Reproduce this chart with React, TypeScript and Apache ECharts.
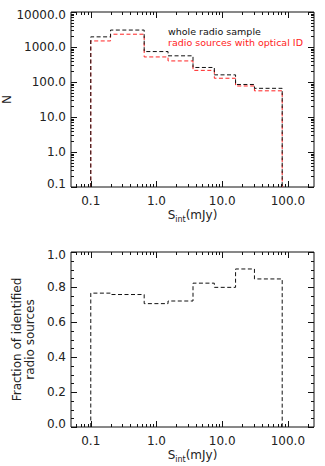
import React, { useEffect, useRef } from "react";
import * as echarts from "echarts";

// Histogram bins in integrated flux density (mJy)
const binEdges = [0.1, 0.2, 0.65, 1.5, 3.6, 7.6, 16, 31, 82];
// Number counts per bin
const allSources = [1950, 3050, 740, 560, 260, 160, 85, 66];
const opticalId = [1490, 2320, 520, 400, 215, 128, 77, 56];
// Fraction of radio sources with an optical identification per bin
const identifiedFraction = [0.765, 0.757, 0.705, 0.72, 0.822, 0.798, 0.903, 0.846];

// Tick values
const fluxMajorTicks = [0.1, 1, 10, 100];
const countMajorTicks = [0.1, 1, 10, 100, 1000, 10000];
const fractionMajorTicks = [0, 0.2, 0.4, 0.6, 0.8, 1.0];
const fractionMinorStep = 0.05;

const FLUX_MIN = 0.05;
const FLUX_MAX = 250;
const COUNT_MIN = 0.1;
const COUNT_MAX = 10000;

const FONT = "DejaVu Sans";
const INK = "#111";
const TEXT = "#222";
const RED = "#f22";

function logMinorTicks(decades: number[], lo: number, hi: number): number[] {
  const out: number[] = [];
  decades.forEach((d) => {
    for (let m = 2; m <= 9; m++) {
      const v = m * d;
      if (v > lo && v < hi) out.push(v);
    }
  });
  return out;
}

function stepOutline(edges: number[], values: number[], floor: number): number[][] {
  const pts: number[][] = [[edges[0], floor]];
  values.forEach((v, i) => {
    pts.push([edges[i], v]);
    pts.push([edges[i + 1], v]);
  });
  pts.push([edges[edges.length - 1], floor]);
  return pts;
}

const MAJOR_LEN = 6;
const MINOR_LEN = 3;
const tickStyle = { stroke: INK, lineWidth: 1 };

// Inward ticks on the bottom and top edges of a grid
function xTickSeries(gridIndex: number, major: number[], minor: number[], yRef: number) {
  const data = [
    ...major.map((v) => [v, yRef, MAJOR_LEN]),
    ...minor.map((v) => [v, yRef, MINOR_LEN]),
  ];
  return {
    type: "custom",
    xAxisIndex: gridIndex,
    yAxisIndex: gridIndex,
    silent: true,
    z: 5,
    data,
    renderItem: (params: any, api: any) => {
      const cs = params.coordSys;
      const x = Math.round(api.coord([api.value(0), api.value(1)])[0]) + 0.5;
      const len = api.value(2);
      const bottom = cs.y + cs.height;
      return {
        type: "group",
        children: [
          { type: "line", shape: { x1: x, y1: bottom, x2: x, y2: bottom - len }, style: tickStyle },
          { type: "line", shape: { x1: x, y1: cs.y, x2: x, y2: cs.y + len }, style: tickStyle },
        ],
      };
    },
  };
}

// Inward ticks on the left and right edges of a grid
function yTickSeries(gridIndex: number, major: number[], minor: number[], xRef: number) {
  const data = [
    ...major.map((v) => [xRef, v, MAJOR_LEN]),
    ...minor.map((v) => [xRef, v, MINOR_LEN]),
  ];
  return {
    type: "custom",
    xAxisIndex: gridIndex,
    yAxisIndex: gridIndex,
    silent: true,
    z: 5,
    data,
    renderItem: (params: any, api: any) => {
      const cs = params.coordSys;
      const y = Math.round(api.coord([api.value(0), api.value(1)])[1]) + 0.5;
      const len = api.value(2);
      const right = cs.x + cs.width;
      return {
        type: "group",
        children: [
          { type: "line", shape: { x1: cs.x, y1: y, x2: cs.x + len, y2: y }, style: tickStyle },
          { type: "line", shape: { x1: right, y1: y, x2: right - len, y2: y }, style: tickStyle },
        ],
      };
    },
  };
}

const isDecade = (v: number) => Math.abs(Math.log10(v) - Math.round(Math.log10(v))) < 1e-6;

const labelRich = {
  hi: { fontFamily: FONT, fontSize: 12, color: TEXT, padding: [6, 0, 0, 0] },
  lo: { fontFamily: FONT, fontSize: 12, color: TEXT, padding: [0, 0, 6, 0] },
};

function fluxAxis(gridIndex: number) {
  return {
    type: "log",
    logBase: 10,
    gridIndex,
    min: FLUX_MIN,
    max: FLUX_MAX,
    axisLine: { show: false },
    axisTick: { show: false },
    splitLine: { show: false },
    axisLabel: {
      margin: 8,
      fontFamily: FONT,
      fontSize: 12,
      color: TEXT,
      showMinLabel: false,
      showMaxLabel: false,
      formatter: (v: number) => (isDecade(v) && v >= 0.1 && v <= 100 ? v.toFixed(1) : ""),
    },
    name: "{s|S}{sub|int}{s|(mJy)}",
    nameLocation: "middle",
    nameGap: 20,
    nameTextStyle: {
      rich: {
        s: { fontFamily: FONT, fontSize: 12, color: TEXT, lineHeight: 16, verticalAlign: "middle" },
        sub: { fontFamily: FONT, fontSize: 8, color: TEXT, lineHeight: 9, verticalAlign: "bottom" },
      },
    },
  };
}

const App: React.FC = () => {
  const ref = useRef<HTMLDivElement>(null);

  useEffect(() => {
    document.body.style.margin = "0";
    if (!ref.current) return;
    const chart = echarts.init(ref.current, undefined, { renderer: "svg" });

    const fluxMinor = logMinorTicks([0.01, 0.1, 1, 10, 100], FLUX_MIN, FLUX_MAX);
    const countMinor = logMinorTicks([0.1, 1, 10, 100, 1000], COUNT_MIN, COUNT_MAX);
    const fractionMinor: number[] = [];
    for (let k = 0; k * fractionMinorStep <= 1.0001; k++) {
      const v = +(k * fractionMinorStep).toFixed(2);
      if (!fractionMajorTicks.some((m) => Math.abs(m - v) < 1e-6)) fractionMinor.push(v);
    }

    const dashed = [4, 2.5];
    const gridBase = {
      left: 71,
      width: 243,
      height: 175,
      show: true,
      borderColor: INK,
      borderWidth: 1,
      backgroundColor: "transparent",
      outerBoundsMode: "none",
      containLabel: false,
    };

    chart.setOption({
      animation: false,
      backgroundColor: "#fff",
      grid: [
        { ...gridBase, top: 12 },
        { ...gridBase, top: 252 },
      ],
      legend: {
        left: 158,
        top: 21.5,
        orient: "vertical",
        icon: "none",
        itemWidth: 0,
        itemHeight: 10,
        itemGap: 1,
        selectedMode: false,
        textStyle: { fontFamily: FONT, fontSize: 9.5 },
        data: [
          { name: "whole radio sample", textStyle: { color: INK } },
          { name: "radio sources with optical ID", textStyle: { color: RED } },
        ],
      },
      xAxis: [fluxAxis(0), fluxAxis(1)],
      yAxis: [
        {
          type: "log",
          logBase: 10,
          gridIndex: 0,
          min: COUNT_MIN,
          max: COUNT_MAX,
          axisLine: { show: false },
          axisTick: { show: false },
          splitLine: { show: false },
          axisLabel: {
            margin: 5,
            fontFamily: FONT,
            fontSize: 12,
            color: TEXT,
            formatter: (v: number) => {
              const t = v.toFixed(1);
              if (v >= COUNT_MAX) return `{hi|${t}}`;
              if (v <= COUNT_MIN) return `{lo|${t}}`;
              return t;
            },
            rich: labelRich,
          },
          name: "N",
          nameLocation: "middle",
          nameRotate: 90,
          nameGap: 58,
          nameMoveOverlap: false,
          nameTextStyle: { fontFamily: FONT, fontSize: 12, color: TEXT },
        },
        {
          type: "value",
          gridIndex: 1,
          min: 0,
          max: 1,
          interval: 0.2,
          axisLine: { show: false },
          axisTick: { show: false },
          splitLine: { show: false },
          axisLabel: {
            margin: 5,
            fontFamily: FONT,
            fontSize: 12,
            color: TEXT,
            formatter: (v: number) => {
              const t = v.toFixed(1);
              if (v >= 1) return `{hi|${t}}`;
              if (v <= 0) return `{lo|${t}}`;
              return t;
            },
            rich: labelRich,
          },
          name: "Fraction of identified\nradio sources",
          nameLocation: "middle",
          nameRotate: 90,
          nameGap: 29,
          nameTextStyle: { fontFamily: FONT, fontSize: 12, color: TEXT, lineHeight: 13 },
        },
      ],
      series: [
        {
          name: "radio sources with optical ID",
          type: "line",
          xAxisIndex: 0,
          yAxisIndex: 0,
          data: stepOutline(binEdges, opticalId, COUNT_MIN),
          showSymbol: false,
          symbol: "none",
          lineStyle: { color: RED, width: 1, type: dashed },
          itemStyle: { color: RED },
          z: 3,
        },
        {
          name: "whole radio sample",
          type: "line",
          xAxisIndex: 0,
          yAxisIndex: 0,
          data: stepOutline(binEdges, allSources, COUNT_MIN),
          showSymbol: false,
          symbol: "none",
          lineStyle: { color: INK, width: 1, type: dashed },
          itemStyle: { color: INK },
          z: 4,
        },
        {
          name: "fraction",
          type: "line",
          xAxisIndex: 1,
          yAxisIndex: 1,
          data: stepOutline(binEdges, identifiedFraction, 0),
          showSymbol: false,
          symbol: "none",
          lineStyle: { color: INK, width: 1, type: dashed },
          z: 4,
        },
        xTickSeries(0, fluxMajorTicks, fluxMinor, 1),
        yTickSeries(0, countMajorTicks, countMinor, 1),
        xTickSeries(1, fluxMajorTicks, fluxMinor, 0.5),
        yTickSeries(1, fractionMajorTicks, fractionMinor, 1),
      ],
    });

    return () => chart.dispose();
  }, []);

  return <div ref={ref} style={{ width: 325, height: 466 }} />;
};

export default App;
